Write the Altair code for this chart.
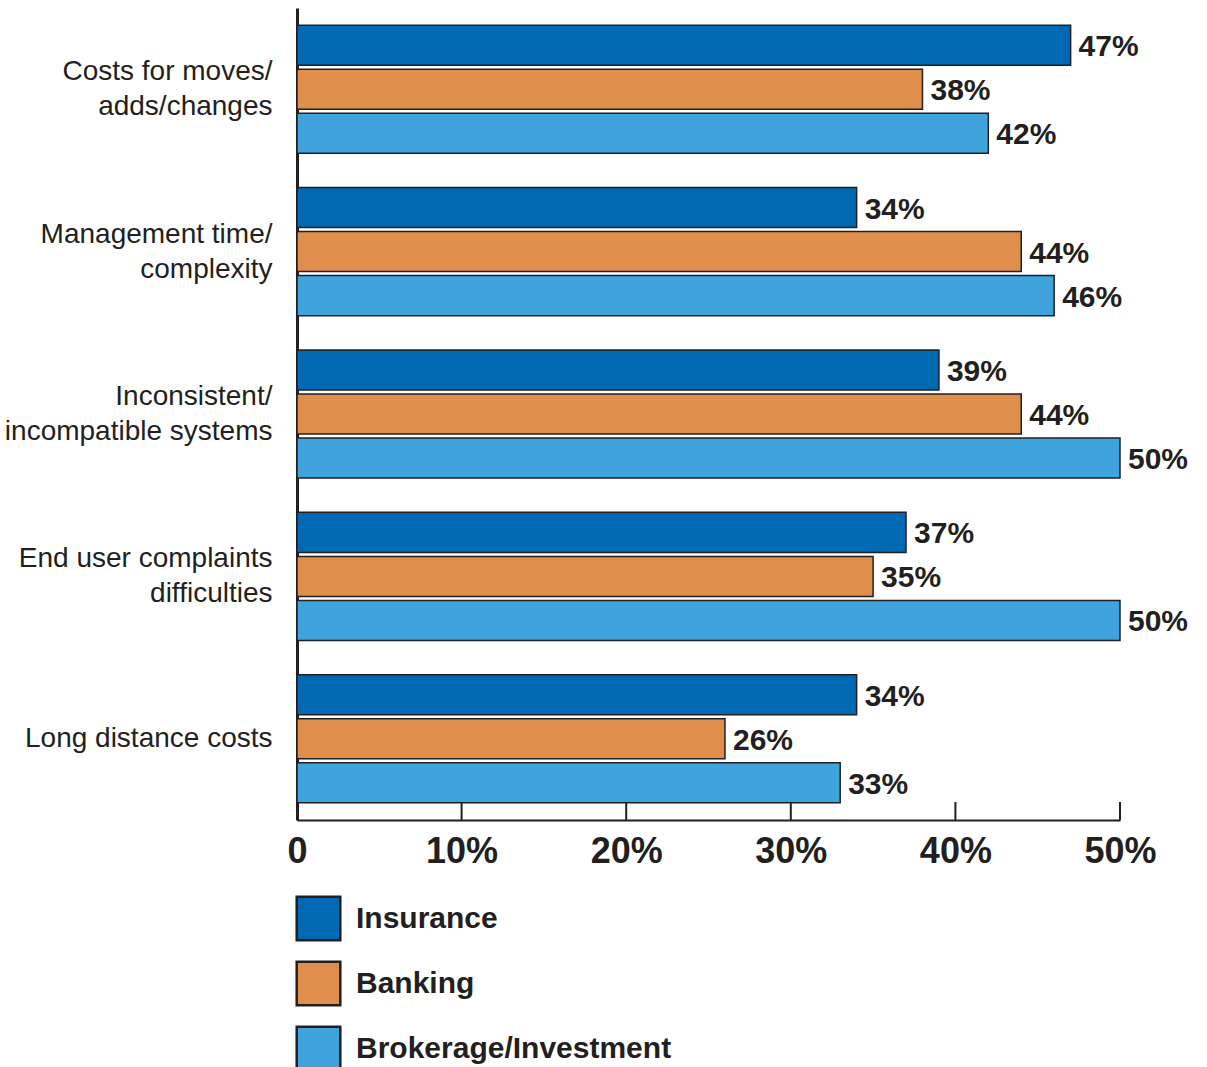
import altair as alt
import pandas as pd

categories = [
    "Costs for moves/|adds/changes",
    "Management time/|complexity",
    "Inconsistent/|incompatible systems",
    "End user complaints|difficulties",
    "Long distance costs",
]
series = ["Insurance", "Banking", "Brokerage/Investment"]
insurance = [47, 34, 39, 37, 34]
banking = [38, 44, 44, 35, 26]
brokerage = [42, 46, 50, 50, 33]
tick_values = [0, 10, 20, 30, 40, 50]
colors = ["#0069b4", "#e08e4b", "#3fa4dc"]

rows = []
for i, c in enumerate(categories):
    for s, vals in zip(series, [insurance, banking, brokerage]):
        rows.append({"category": c, "series": s, "value": vals[i]})
df = pd.DataFrame(rows)
ticks_df = pd.DataFrame({"t": tick_values})

ink = "#231f20"
font = "Liberation Sans"

y_enc = alt.Y(
    "category:N",
    sort=categories,
    scale=alt.Scale(paddingInner=0, paddingOuter=0),
    axis=alt.Axis(
        title=None,
        labelExpr="split(datum.label, '|')",
        labelFont=font,
        labelFontSize=28,
        labelColor=ink,
        labelLineHeight=35,
        labelPadding=25,
        labelOffset={"condition": {"test": "indexof(datum.label, '|') >= 0", "value": -17}, "value": 0},
        ticks=False,
        grid=False,
        domainColor=ink,
        domainWidth=3,
        labelLimit=400,
    ),
)
yoff = alt.YOffset(
    "series:N",
    sort=series,
    scale=alt.Scale(paddingInner=0.09, paddingOuter=0.39),
)
x_enc = alt.X(
    "value:Q",
    scale=alt.Scale(domain=[0, 50], nice=False),
    axis=alt.Axis(
        title=None,
        values=tick_values,
        labelExpr="datum.value == 0 ? '0' : datum.value + '%'",
        labelFont=font,
        labelFontSize=36,
        labelFontWeight="bold",
        labelColor=ink,
        labelFlush=False,
        labelPadding=14,
        ticks=False,
        grid=False,
        domainColor=ink,
        domainWidth=2,
    ),
)

bars = alt.Chart(df).mark_bar(stroke=ink, strokeWidth=1.5).encode(
    y=y_enc,
    yOffset=yoff,
    x=x_enc,
    color=alt.Color(
        "series:N",
        sort=series,
        scale=alt.Scale(domain=series, range=colors),
        legend=alt.Legend(
            title=None,
            orient="none",
            legendX=-2,
            legendY=887,
            symbolType="square",
            symbolSize=1900,
            symbolStrokeColor=ink,
            symbolStrokeWidth=2.5,
            symbolOpacity=1,
            labelFont=font,
            labelFontSize=30,
            labelFontWeight="bold",
            labelColor=ink,
            labelOffset=14,
            rowPadding=10,
            padding=0,
            labelLimit=500,
        ),
    ),
)

labels = alt.Chart(df).mark_text(
    align="left", baseline="middle", dx=8, dy=2, font=font, fontSize=30,
    fontWeight="bold", color=ink,
).encode(
    y=alt.Y("category:N", sort=categories),
    yOffset=alt.YOffset("series:N", sort=series),
    x=alt.X("value:Q"),
    text=alt.Text("label:N"),
).transform_calculate(label="datum.value + '%'")

ticks = alt.Chart(ticks_df).mark_rule(color=ink, strokeWidth=2).encode(
    x=alt.X("t:Q"),
    y=alt.value(794),
    y2=alt.value(812),
)

chart = alt.layer(bars, labels, ticks).properties(
    width=823,
    height=812,
    background="white",
    autosize=alt.AutoSizeParams(type="none"),
    padding={"left": 297, "top": 8, "right": 87, "bottom": 247},
).configure_view(stroke="transparent", strokeWidth=0).configure_axis(grid=False)

chart.save("out.html", embed_options={"renderer": "svg", "actions": False})
